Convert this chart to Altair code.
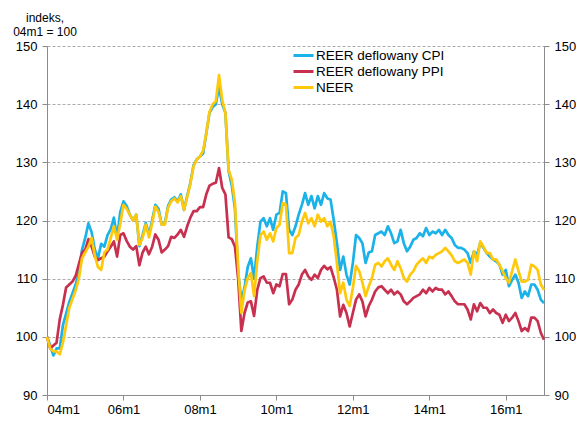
import altair as alt
import pandas as pd

# month index 0 = 2004m1 ... 156 = 2017m1
reer_cpi = [100, 98.5, 96.8, 98, 98, 102, 104, 106, 107.5, 109, 111, 115, 117, 119.5, 118, 115,
            113.5, 116, 115.5, 117.5, 118.5, 120.5, 117, 121.5, 123.3, 122.5, 121, 120, 121, 115.6,
            117.5, 119.6, 117.6, 120, 122.7, 122, 119.3, 119.5, 122.5, 123.6, 124, 123.3, 124.5, 121.8,
            124.2, 126.5, 129.5, 130.5, 131, 131.5, 135, 138.5, 139.5, 140, 143, 140, 138.5, 128.5,
            126, 122, 111, 106.2, 108.5, 112, 113.5, 110, 115.5, 119.8, 120.4, 119, 120.4, 118.4,
            121, 121.3, 125, 124.7, 118.4, 117.5, 119, 121, 122.7, 124.7, 122.7, 124.2, 122.1, 124.2,
            122.7, 124.7, 123.8, 123.6, 120.1, 116.1, 111.5, 113.8, 110.7, 109, 112.7, 117.5, 117,
            116.1, 112.7, 114.5, 114.7, 117.5, 117.8, 118.1, 117.5, 119, 117.8, 116.1, 116.4, 118.4,
            116.1, 114.7, 115.5, 116.7, 117, 117.8, 117.3, 118.7, 117.5, 118.1, 117.8, 118.4, 117.5,
            118.4, 117.5, 117, 115.8, 115.3, 115.3, 115, 114.4, 112.7, 114.7, 114.1, 116.1, 115.3,
            114.4, 113.8, 113.3, 113, 112.4, 110.7, 111.5, 108.7, 109.8, 110.7, 109.3, 106.7, 107.8,
            107, 109, 109, 108.1, 106.4, 105.8]

reer_ppi = [100, 98, 98.5, 99, 103, 105.5, 108.5, 109, 109.5, 110.5, 112.5, 114.5, 115, 116.8,
            115.5, 113.8, 113.2, 113.5, 113.8, 114.7, 115.5, 116.4, 113.8, 117.5, 117.8, 116.5, 115.5,
            115, 115.6, 112.3, 114.5, 115.5, 114.2, 115.5, 117.6, 116.7, 114.5, 115, 115.6, 117.2,
            117, 117.6, 118.4, 117.2, 119, 120.5, 121.6, 121.6, 122.3, 122.3, 124.5, 126, 126.3,
            126.5, 129, 125.6, 124.5, 117.1, 116.8, 115.5, 110, 101, 104.1, 105.9, 106.1, 103.6,
            108.1, 110.1, 110.4, 109.3, 109.3, 107.5, 109, 108.7, 110.8, 110.8, 105.6, 106.4, 108.1,
            109, 110.7, 111.5, 110.4, 109.8, 110.7, 110.1, 111.5, 112.2, 111.6, 112, 110.2, 108.1,
            103.5, 105.5, 104.1, 101.8, 104.1, 106.4, 107.3, 106.1, 103.5, 105.3, 106.4, 107.8,
            108.5, 108.7, 108.1, 107.5, 108.1, 107.3, 107.8, 107.3, 106.1, 105.6, 106.1, 106.7, 107,
            107.3, 108.1, 107.5, 108.4, 107.8, 108.4, 108.1, 108.1, 107.3, 107.8, 107, 106.1, 105.6,
            105.6, 105.6, 104.7, 103, 105.6, 104.4, 105.8, 105, 105, 104.1, 104.7, 104.1, 103.8,
            102.4, 103.8, 102.7, 103.3, 104.1, 102.7, 101, 101.5, 101, 103.3, 103.3, 102.7, 100.7, 99.5]

neer = [100, 98, 97.5, 97.5, 97, 99, 102, 105, 106.5, 108, 110, 113.5, 114.5, 115.5, 117, 114,
        112, 111.5, 114.5, 115, 117, 119, 116.7, 119.5, 122.7, 122, 121, 120, 121, 115.8, 117,
        119.3, 117.1, 119.5, 122.4, 121.5, 119.3, 119.3, 122.2, 123.3, 123.8, 123.1, 124.2, 121.8,
        124, 126.3, 129.3, 130.5, 131, 132, 135, 138.7, 140, 140.5, 145, 140.7, 138.5, 128.7, 127,
        123, 112, 104.1, 108, 110.1, 111, 107, 113, 117.5, 118.1, 116.7, 117.8, 116.4, 118.7,
        119.3, 123, 122.7, 114.4, 114.4, 117, 117.5, 119.8, 121.3, 119.5, 120.4, 119, 121, 119.8,
        120.4, 119, 119.8, 117.2, 112.7, 107.5, 109.3, 106.4, 105.3, 108.4, 112.2, 111.3, 109.3,
        107, 108.7, 110.1, 112.4, 112.7, 112.1, 113, 113.5, 112.4, 111.5, 113, 111.8, 110.1,
        109.5, 110.7, 111.3, 112.4, 113, 113.5, 112.7, 113.8, 113.5, 114.1, 114.4, 114.7, 115.3,
        114.7, 114, 113, 112.7, 113, 113.3, 112.7, 110.7, 114.7, 113, 116.4, 115.5, 114.4, 114.4,
        113.3, 113.3, 112.4, 111.3, 110.1, 109.3, 111.3, 113.3, 111.3, 109.5, 109.5, 109.8,
        112.4, 112.1, 111.5, 109, 108.1]

series_names = ["REER deflowany CPI", "REER deflowany PPI", "NEER"]
series_colors = ["#1AB2E8", "#C8304F", "#FFC80A"]
tick_labels = ["04m1", "06m1", "08m1", "10m1", "12m1", "14m1", "16m1"]
y_ticks = [90, 100, 110, 120, 130, 140, 150]

rows = []
for name, vals in zip(series_names, [reer_cpi, reer_ppi, neer]):
    for i, v in enumerate(vals):
        rows.append({"m": i, "v": v, "s": name, "o": series_names.index(name)})
df = pd.DataFrame(rows)

FONT = "Arial, Liberation Sans, sans-serif"
label_expr = "[" + ",".join("'%s'" % t for t in tick_labels) + "][round(datum.value/24)]"

x_enc = alt.X("m:Q", scale=alt.Scale(domain=[0, 156], nice=False, zero=False),
              axis=alt.Axis(values=[i * 24 for i in range(len(tick_labels))], labelExpr=label_expr,
                            title=None, grid=False, tickSize=5, labelPadding=3))

y_scale = alt.Scale(domain=[90, 150], nice=False, zero=False)

lines = alt.Chart(df).mark_line(strokeWidth=2.7, strokeJoin="round").encode(
    x=x_enc,
    y=alt.Y("v:Q", scale=y_scale,
            axis=alt.Axis(values=y_ticks, title=None, grid=True, gridDash=[3, 2],
                          gridColor="#ababab", tickSize=5, labelPadding=5)),
    color=alt.Color("s:N", scale=alt.Scale(domain=series_names, range=series_colors),
                    sort=series_names,
                    legend=alt.Legend(title=None, orient="none", legendX=245, legendY=2,
                                      symbolType="stroke", symbolSize=400, symbolStrokeWidth=3,
                                      labelOffset=1, labelFontSize=13.5, labelFont=FONT,
                                      labelColor="#000", rowPadding=1, clipHeight=15)),
    order=alt.Order("o:Q"),
)

right = alt.Chart(df).mark_line(opacity=0).encode(
    x=x_enc,
    y=alt.Y("v:Q", scale=y_scale,
            axis=alt.Axis(values=y_ticks, title=None, grid=False, orient="right",
                          tickSize=5, labelPadding=5)),
    detail="s:N",
)

chart = alt.layer(lines, right).resolve_axis(y="independent").properties(
    width=497, height=349,
    title=alt.TitleParams(text=["indeks,", "04m1 = 100"], anchor="start", align="center",
                          frame="group", dx=-2, fontSize=12, fontWeight="normal", font=FONT,
                          color="#000", lineHeight=14.5, offset=1),
    autosize=alt.AutoSizeParams(type="none"),
    padding={"left": 39, "top": 38, "right": 32, "bottom": 26},
).configure_view(stroke=None).configure_axis(
    labelFont=FONT, labelFontSize=13, labelColor="#000", domainColor="#8c8c8c",
    tickColor="#8c8c8c", domainWidth=1,
)

chart.save("out.html", embed_options={"renderer": "svg", "actions": False})
